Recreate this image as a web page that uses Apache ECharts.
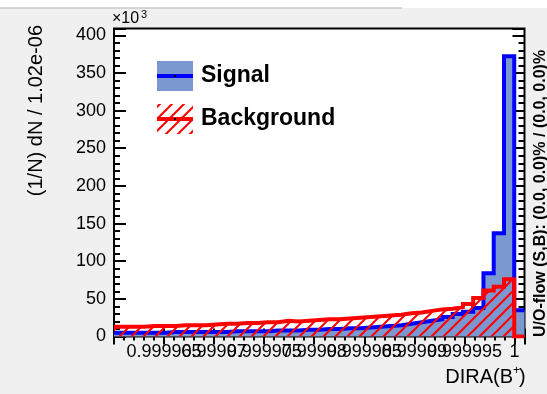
<!DOCTYPE html>
<html>
<head>
<meta charset="utf-8">
<script src="https://cdn.jsdelivr.net/npm/echarts@6/dist/echarts.min.js"></script>
<style>
  html, body { margin: 0; padding: 0; background: #f0f0f0; }
  #chart { width: 547px; height: 394px; }
</style>
</head>
<body>
<div id="chart"></div>
<script>
// histogram binning: 40 bins of 1.025e-06 starting at 0.99996
const xLo = 0.99996
const binW = 1.025e-6
const nBins = 40

// values in units of 10^3
const signal = [
  5, 5, 5, 5, 5, 6, 6, 6, 6, 6,
  6, 7, 7, 7, 7, 8, 8, 8, 9, 9,
  10, 10, 11, 11, 12, 13, 14, 15, 17, 19,
  21, 23, 26, 30, 33, 38, 84, 137, 372, 35
]
const background = [
  13, 13, 13, 14, 14, 14, 15, 15, 15, 16,
  17, 17, 18, 18, 19, 19, 21, 20, 21, 22,
  23, 23, 24, 25, 26, 27, 28, 29, 31, 32,
  34, 36, 37, 39, 43, 51, 61, 66, 76, 0
]
const yTicks = [0, 50, 100, 150, 200, 250, 300, 350, 400]
const xTickStep = 0.000005

const xHi = xLo + nBins * binW
const yMax = 409

// step data: left edge of each bin, plus the closing right edge
const toSteps = vals => {
  const pts = vals.map((v, i) => [xLo + i * binW, v])
  pts.push([xHi, vals[vals.length - 1]])
  return pts
}

const hatch = (() => {
  const s = 12
  const c = document.createElement('canvas')
  c.width = s
  c.height = s
  const g = c.getContext('2d')
  g.strokeStyle = '#ff0000'
  g.lineWidth = 2
  g.beginPath()
  g.moveTo(-2, s + 2); g.lineTo(s + 2, -2)
  g.moveTo(-2, 2); g.lineTo(2, -2)
  g.moveTo(s - 2, s + 2); g.lineTo(s + 2, s - 2)
  g.stroke()
  return c
})()

const chart = echarts.init(document.getElementById('chart'))
const font = 'Liberation Sans, Arial, Helvetica, sans-serif'

const tickStyle = { color: '#000', width: 2 }
const xAxisBase = {
  type: 'value',
  min: xLo,
  max: xHi,
  interval: xTickStep,
  axisLine: { show: false },
  splitLine: { show: false },
  axisTick: { show: true, inside: true, length: 8, lineStyle: tickStyle },
  minorTick: { show: true, splitNumber: 5, length: 4, lineStyle: tickStyle },
}
const yAxisBase = {
  type: 'value',
  min: 0,
  max: yMax,
  interval: 50,
  axisLine: { show: false },
  splitLine: { show: false },
  axisTick: { show: true, inside: true, length: 12, lineStyle: tickStyle },
  minorTick: { show: true, splitNumber: 5, length: 6, lineStyle: tickStyle },
}

chart.setOption({
  backgroundColor: '#f0f0f0',
  animation: false,
  grid: {
    left: 114, right: 22.5, top: 28.5, bottom: 57.5,
    show: true, backgroundColor: '#fff', borderColor: '#000', borderWidth: 2,
  },
  xAxis: [
    {
      ...xAxisBase,
      position: 'bottom',
      axisLabel: {
        margin: 7, color: '#000', fontSize: 18, fontFamily: font,
        showMinLabel: false, showMaxLabel: false, hideOverlap: false,
        formatter: v => String(+v.toFixed(6)),
      },
    },
    { ...xAxisBase, position: 'top', axisLabel: { show: false } },
  ],
  yAxis: [
    {
      ...yAxisBase,
      position: 'left',
      axisLabel: {
        margin: 8, color: '#000', fontSize: 18, fontFamily: font,
        formatter: v => yTicks.includes(v) ? String(v) : '',
      },
    },
    { ...yAxisBase, position: 'right', axisLabel: { show: false } },
  ],
  series: [
    {
      name: 'Signal',
      type: 'line',
      step: 'end',
      symbol: 'none',
      data: toSteps(signal),
      lineStyle: { color: '#0000ff', width: 4, join: 'miter' },
      areaStyle: { color: '#7b99d0', opacity: 1, origin: 'start' },
      z: 2,
    },
    {
      name: 'Background',
      type: 'line',
      step: 'end',
      symbol: 'none',
      data: toSteps(background),
      lineStyle: { color: '#ff0000', width: 4, join: 'miter' },
      areaStyle: { color: { image: hatch, repeat: 'repeat' }, opacity: 1, origin: 'start' },
      z: 3,
    },
  ],
  graphic: [
    { type: 'rect', shape: { x: 0, y: 0, width: 547, height: 8 }, style: { fill: '#fff' }, silent: true },
    { type: 'line', shape: { x1: 0, y1: 8, x2: 402, y2: 8 }, style: { stroke: '#c8c8c8', lineWidth: 1.5 }, silent: true },
    // legend
    { type: 'rect', shape: { x: 157, y: 61, width: 36, height: 30 }, style: { fill: '#7b99d0' } },
    { type: 'line', shape: { x1: 157, y1: 76, x2: 193, y2: 76 }, style: { stroke: '#0000ff', lineWidth: 4 } },
    { type: 'rect', shape: { x: 174, y: 75, width: 2, height: 2 }, style: { fill: '#000' } },
    { type: 'text', x: 201, y: 76, style: { text: 'Signal', font: 'bold 23px ' + font, fill: '#000', textAlign: 'left', textVerticalAlign: 'middle' } },
    { type: 'rect', shape: { x: 157, y: 104, width: 36, height: 30 }, style: { fill: { image: hatch, repeat: 'repeat' } } },
    { type: 'line', shape: { x1: 157, y1: 119, x2: 193, y2: 119 }, style: { stroke: '#ff0000', lineWidth: 4 } },
    { type: 'rect', shape: { x: 174, y: 118, width: 2, height: 2 }, style: { fill: '#000' } },
    { type: 'text', x: 201, y: 119, style: { text: 'Background', font: 'bold 23px ' + font, fill: '#000', textAlign: 'left', textVerticalAlign: 'middle' } },
    // axis titles and notes
    { type: 'text', x: 112, y: 27, style: { text: '×10', font: '16px ' + font, fill: '#000', textAlign: 'left', textVerticalAlign: 'bottom' } },
    { type: 'text', x: 141, y: 20, style: { text: '3', font: '11px ' + font, fill: '#000', textAlign: 'left', textVerticalAlign: 'bottom' } },
    { type: 'text', x: 36, y: 25, rotation: Math.PI / 2, style: { text: '(1/N) dN / 1.02e-06', font: '20px ' + font, fill: '#000', textAlign: 'right', textVerticalAlign: 'middle' } },
    { type: 'text', x: 513, y: 387, style: { text: 'DIRA(B', font: '20px ' + font, fill: '#000', textAlign: 'right', textVerticalAlign: 'bottom' } },
    { type: 'text', x: 513, y: 377, style: { text: '+', font: '12px ' + font, fill: '#000', textAlign: 'left', textVerticalAlign: 'bottom' } },
    { type: 'text', x: 519, y: 387, style: { text: ')', font: '20px ' + font, fill: '#000', textAlign: 'left', textVerticalAlign: 'bottom' } },
    { type: 'text', x: 541, y: 337, rotation: Math.PI / 2, style: { text: 'U/O-flow (S,B): (0.0, 0.0)% / (0.0, 0.0)%', font: 'bold 16px ' + font, fill: '#000', textAlign: 'left', textVerticalAlign: 'middle' } },
  ],
})
</script>
</body>
</html>
